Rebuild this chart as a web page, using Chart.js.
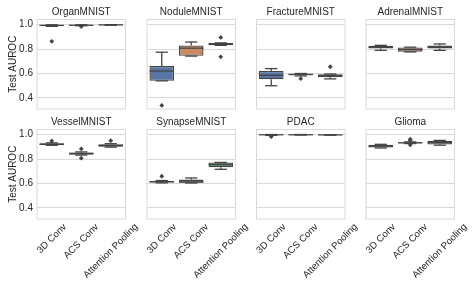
<!DOCTYPE html>
<html>
<head>
<meta charset="utf-8">
<script src="https://cdn.jsdelivr.net/npm/chart.js@4.4.0/dist/chart.umd.min.js"></script>
<style>
  body { margin: 0; background: #fff; }
  #wrap { position: relative; width: 475px; height: 285px; }
  #wrap canvas { position: absolute; left: 0; top: 0; }
</style>
</head>
<body>
<div id="wrap"></div>
<script>
// panels, categories and box statistics
const panels = ['OrganMNIST', 'NoduleMNIST', 'FractureMNIST', 'AdrenalMNIST',
                'VesselMNIST', 'SynapseMNIST', 'PDAC', 'Glioma'];
const categories = ['3D Conv', 'ACS Conv', 'Attention Pooling'];
const yTicks = [0.4, 0.6, 0.8, 1.0];

const whiskerLow = [
  [0.985, 0.990, 0.995], [0.540, 0.742, 0.830], [0.500, 0.580, 0.556], [0.789, 0.776, 0.789],
  [0.912, 0.832, 0.897], [0.605, 0.604, 0.716], [0.993, 0.996, 0.995], [0.890, 0.926, 0.913]
];
const q1 = [
  [0.990, 0.992, 0.996], [0.540, 0.745, 0.830], [0.553, 0.586, 0.570], [0.805, 0.778, 0.805],
  [0.915, 0.835, 0.900], [0.608, 0.606, 0.733], [0.996, 0.997, 0.996], [0.893, 0.928, 0.918]
];
const median = [
  [0.993, 0.994, 0.997], [0.620, 0.807, 0.840], [0.585, 0.592, 0.582], [0.815, 0.795, 0.818],
  [0.920, 0.845, 0.910], [0.614, 0.613, 0.755], [0.998, 0.998, 0.997], [0.905, 0.932, 0.935]
];
const q3 = [
  [0.996, 0.996, 0.998], [0.661, 0.829, 0.849], [0.620, 0.597, 0.594], [0.827, 0.813, 0.829],
  [0.928, 0.854, 0.920], [0.620, 0.632, 0.772], [0.999, 0.999, 0.998], [0.917, 0.936, 0.950]
];
const whiskerHigh = [
  [0.998, 0.998, 0.999], [0.774, 0.857, 0.850], [0.640, 0.600, 0.596], [0.830, 0.815, 0.841],
  [0.932, 0.858, 0.925], [0.624, 0.645, 0.772], [1.000, 1.000, 0.999], [0.920, 0.940, 0.952]
];
const outliers = [
  [[0.863], [0.984], []], [[0.339], [], [0.895, 0.736]], [[], [0.558], [0.655]], [[], [], []],
  [[0.948], [0.882, 0.807], [0.950]], [[0.659], [], []], [[0.982], [], []], [[], [0.962, 0.952, 0.915], []]
];

const boxColors = ['#5875a3', '#cb8964', '#5f9e6e'];
const lineColor = '#444444';
const gridColor = '#d9d9d9';
const textColor = '#262626';
const fontFamily = '"Liberation Sans", Arial, sans-serif';

const W = 475, H = 285;
const colLeft = [37, 147, 256.5, 366];
const panelW = 88.5;
const rowTop = [19.5, 129.5];
const panelH = 89.5;

Chart.defaults.font.family = fontFamily;
Chart.defaults.color = textColor;

// whiskers, caps, medians, frame and rotated category labels
const boxParts = {
  id: 'boxParts',
  beforeDatasetsDraw(chart) {
    const a = chart.chartArea, ctx = chart.ctx;
    ctx.save();
    ctx.strokeStyle = gridColor;
    ctx.lineWidth = 1;
    ctx.strokeRect(a.left, a.top, a.right - a.left, a.bottom - a.top);
    ctx.restore();
  },
  afterDatasetsDraw(chart, args, opts) {
    const p = opts.panel, ctx = chart.ctx, y = chart.scales.y;
    const meta = chart.getDatasetMeta(0);
    const seg = (x1, y1, x2, y2) => { ctx.beginPath(); ctx.moveTo(x1, y1); ctx.lineTo(x2, y2); ctx.stroke(); };
    ctx.save();
    ctx.strokeStyle = lineColor;
    ctx.lineWidth = 1.3;
    meta.data.forEach((bar, i) => {
      const x = bar.x, half = bar.width / 2, cap = half / 2;
      const pLo = y.getPixelForValue(whiskerLow[p][i]);
      const pQ1 = y.getPixelForValue(q1[p][i]);
      const pMed = y.getPixelForValue(median[p][i]);
      const pQ3 = y.getPixelForValue(q3[p][i]);
      const pHi = y.getPixelForValue(whiskerHigh[p][i]);
      seg(x, pQ3, x, pHi); seg(x - cap, pHi, x + cap, pHi);
      seg(x, pQ1, x, pLo); seg(x - cap, pLo, x + cap, pLo);
      seg(x - half, pMed, x + half, pMed);
    });
    ctx.restore();
  },
  afterDraw(chart, args, opts) {
    if (!opts.showX) return;
    const ctx = chart.ctx, xs = chart.scales.x, bottom = chart.chartArea.bottom;
    ctx.save();
    ctx.font = '9.6px ' + fontFamily;
    ctx.fillStyle = textColor;
    categories.forEach((c, i) => {
      const w = ctx.measureText(c).width;
      const cy = bottom + 2.5 + (w + 11) * Math.SQRT1_2 / 2;
      ctx.save();
      ctx.translate(xs.getPixelForValue(i), cy);
      ctx.rotate(-Math.PI / 4);
      ctx.textAlign = 'center';
      ctx.textBaseline = 'middle';
      ctx.fillText(c, 0, 0);
      ctx.restore();
    });
    ctx.restore();
  }
};

const wrap = document.getElementById('wrap');

panels.forEach((name, p) => {
  const row = Math.floor(p / 4), col = p % 4;
  const left = colLeft[col], top = rowTop[row];
  const first = col === 0;
  const canvas = document.createElement('canvas');
  canvas.width = W;
  canvas.height = H;
  wrap.appendChild(canvas);

  new Chart(canvas, {
    type: 'bar',
    data: {
      labels: categories,
      datasets: [{
        data: categories.map((c, i) => [q1[p][i], q3[p][i]]),
        backgroundColor: boxColors,
        borderColor: lineColor,
        borderWidth: 1.3,
        borderSkipped: false,
        barPercentage: 0.83,
        categoryPercentage: 1,
        order: 2
      }, {
        type: 'line',
        showLine: false,
        data: outliers[p].flatMap((arr, i) => arr.map(v => ({ x: categories[i], y: v }))),
        pointStyle: 'rectRot',
        pointRadius: 2.4,
        backgroundColor: lineColor,
        borderColor: lineColor,
        borderWidth: 0,
        order: 1
      }]
    },
    options: {
      responsive: false,
      animation: false,
      events: [],
      devicePixelRatio: 1,
      layout: {
        padding: { left: first ? 0 : left, right: W - left - panelW, top: top - 13, bottom: H - top - panelH }
      },
      plugins: {
        legend: { display: false },
        tooltip: { enabled: false },
        title: {
          display: true, text: name, fullSize: false, color: textColor,
          font: { size: 10, weight: 'normal', lineHeight: 1.2 },
          padding: { top: 0, bottom: 1 }
        },
        boxParts: { panel: p, showX: row === 1 }
      },
      scales: {
        x: {
          offset: true,
          grid: { display: false },
          border: { display: false },
          ticks: { display: false },
          afterFit: s => { s.height = 0; }
        },
        y: {
          min: 0.31,
          max: 1.041,
          afterBuildTicks: s => { s.ticks = yTicks.map(v => ({ value: v })); },
          grid: { color: gridColor, drawTicks: false, lineWidth: 1 },
          border: { display: false },
          ticks: { display: first, padding: 4, color: textColor, font: { size: 10 }, callback: v => v.toFixed(1) },
          title: { display: first, text: 'Test AUROC', color: textColor, font: { size: 10 }, padding: { top: 7, bottom: 0 } },
          afterFit: s => { s.width = first ? 37 : 0; }
        }
      }
    },
    plugins: [boxParts]
  });
});
</script>
</body>
</html>
